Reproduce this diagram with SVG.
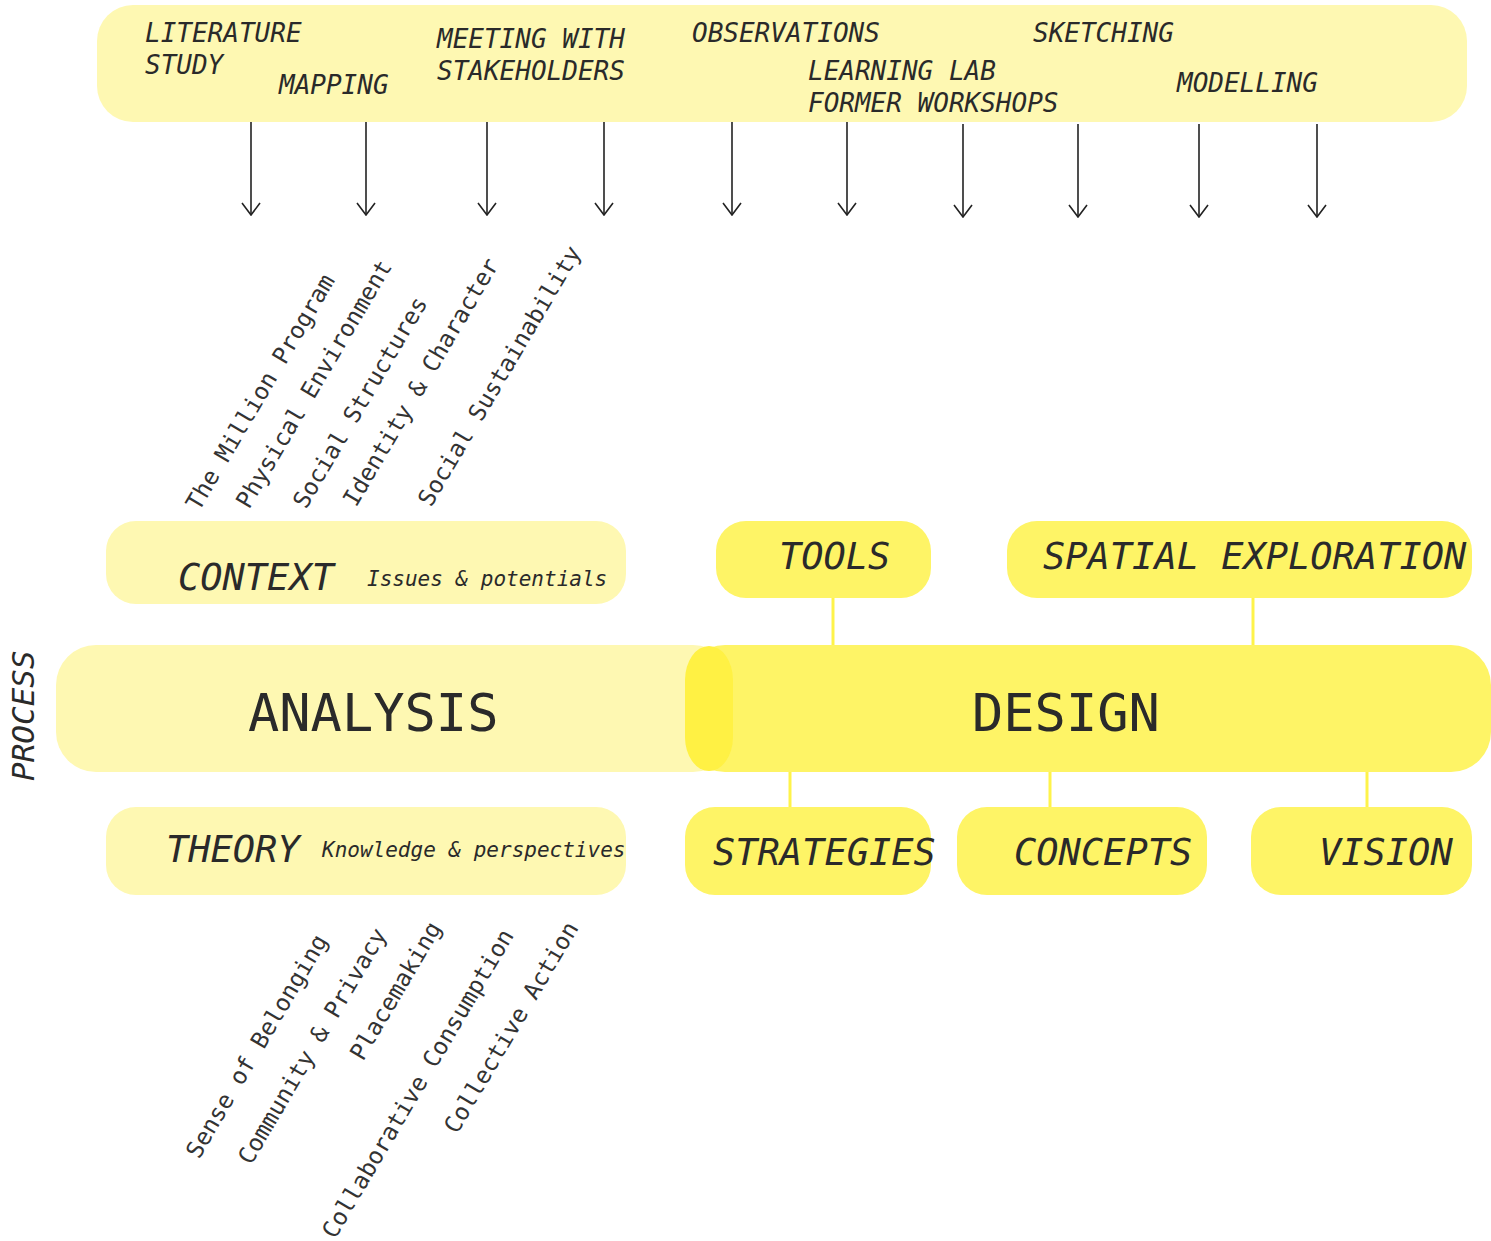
<svg xmlns="http://www.w3.org/2000/svg" width="1491" height="1241" viewBox="0 0 1491 1241">
<style>
.pale{fill:#fef8b2}
.yel{fill:#fef466}
.t{font-family:"DejaVu Sans Mono","Liberation Mono",monospace;fill:#2a2a2a}
.it{font-style:italic}
.top{font-size:26px}
.box{font-size:37px}
.big{font-size:52px}
.sub{font-size:21px}
.rot{font-size:23.5px;fill:#333}
.arr{stroke:#222;stroke-width:1.6;fill:none}
.ylink{stroke:#fef34a;stroke-width:3}
</style>
<defs>
<marker id="ah" viewBox="0 0 14 20" refX="13" refY="10" markerWidth="14" markerHeight="20" markerUnits="userSpaceOnUse" orient="auto">
<path d="M1,1 L13,10 L1,19" fill="none" stroke="#222" stroke-width="1.6"/>
</marker>
</defs>
<rect width="1491" height="1241" fill="#ffffff"/>

<g id="methods">
<rect class="pale" x="97" y="5" width="1370" height="117" rx="36"/>
<text class="t it top" x="145" y="42">LITERATURE</text>
<text class="t it top" x="145" y="74">STUDY</text>
<text class="t it top" x="279" y="94">MAPPING</text>
<text class="t it top" x="437" y="48">MEETING WITH</text>
<text class="t it top" x="437" y="80">STAKEHOLDERS</text>
<text class="t it top" x="692" y="42">OBSERVATIONS</text>
<text class="t it top" x="808" y="80">LEARNING LAB</text>
<text class="t it top" x="808" y="112">FORMER WORKSHOPS</text>
<text class="t it top" x="1033" y="42">SKETCHING</text>
<text class="t it top" x="1177" y="92">MODELLING</text>
</g>

<g id="connectors">
<line class="arr" x1="251" y1="122" x2="251" y2="215" marker-end="url(#ah)"/>
<line class="arr" x1="366" y1="122" x2="366" y2="215" marker-end="url(#ah)"/>
<line class="arr" x1="487" y1="122" x2="487" y2="215" marker-end="url(#ah)"/>
<line class="arr" x1="604" y1="122" x2="604" y2="215" marker-end="url(#ah)"/>
<line class="arr" x1="732" y1="122" x2="732" y2="215" marker-end="url(#ah)"/>
<line class="arr" x1="847" y1="122" x2="847" y2="215" marker-end="url(#ah)"/>
<line class="arr" x1="963" y1="124" x2="963" y2="217" marker-end="url(#ah)"/>
<line class="arr" x1="1078" y1="124" x2="1078" y2="217" marker-end="url(#ah)"/>
<line class="arr" x1="1199" y1="124" x2="1199" y2="217" marker-end="url(#ah)"/>
<line class="arr" x1="1317" y1="124" x2="1317" y2="217" marker-end="url(#ah)"/>
<line class="ylink" x1="833" y1="598" x2="833" y2="646"/>
<line class="ylink" x1="1253" y1="598" x2="1253" y2="646"/>
<line class="ylink" x1="790" y1="768" x2="790" y2="812"/>
<line class="ylink" x1="1050" y1="771" x2="1050" y2="808"/>
<line class="ylink" x1="1367" y1="771" x2="1367" y2="808"/>
</g>

<g id="context-topics">
<text class="t rot" transform="translate(199,512) rotate(-59.5)">The Million Program</text>
<text class="t rot" transform="translate(249,510) rotate(-59.5)">Physical Environment</text>
<text class="t rot" transform="translate(306,510) rotate(-59.5)">Social Structures</text>
<text class="t rot" transform="translate(356,508) rotate(-59.5)">Identity &amp; Character</text>
<text class="t rot" transform="translate(431,508) rotate(-59.5)">Social Sustainability</text>
</g>

<g id="context">
<rect class="pale" x="106" y="521" width="520" height="83" rx="30"/>
<text class="t it box" x="178" y="590">CONTEXT</text>
<text class="t it sub" x="367" y="586">Issues &amp; potentials</text>
</g>

<g id="tools">
<rect class="yel" x="716" y="521" width="215" height="77" rx="30"/>
<text class="t it box" x="779" y="569">TOOLS</text>
</g>

<g id="spatial-exploration">
<rect class="yel" x="1007" y="521" width="465" height="77" rx="30"/>
<text class="t it box" x="1043" y="569">SPATIAL EXPLORATION</text>
</g>

<g id="analysis">
<rect class="pale" x="56" y="645" width="677" height="127" rx="40"/>
<text class="t big" x="248" y="731">ANALYSIS</text>
</g>

<g id="design">
<rect class="yel" x="685" y="645" width="806" height="127" rx="40"/>
<rect x="685" y="646" width="48" height="125" rx="24" ry="34" fill="#fff144"/>
<text class="t big" x="972" y="731">DESIGN</text>
</g>

<g id="process">
<text class="t it" font-size="31" transform="translate(34,781) rotate(-90)">PROCESS</text>
</g>

<g id="theory">
<rect class="pale" x="106" y="807" width="520" height="88" rx="30"/>
<text class="t it box" x="166" y="862">THEORY</text>
<text class="t it sub" x="322" y="857">Knowledge &amp; perspectives</text>
</g>

<g id="strategies">
<rect class="yel" x="685" y="807" width="246" height="88" rx="30"/>
<text class="t it box" x="713" y="865">STRATEGIES</text>
</g>

<g id="concepts">
<rect class="yel" x="957" y="807" width="250" height="88" rx="30"/>
<text class="t it box" x="1014" y="865">CONCEPTS</text>
</g>

<g id="vision">
<rect class="yel" x="1251" y="807" width="221" height="88" rx="30"/>
<text class="t it box" x="1319" y="865">VISION</text>
</g>

<g id="theory-topics">
<text class="t rot" transform="translate(199,1160) rotate(-59.5)">Sense of Belonging</text>
<text class="t rot" transform="translate(251,1166) rotate(-59.5)">Community &amp; Privacy</text>
<text class="t rot" transform="translate(363,1062) rotate(-59.5)">Placemaking</text>
<text class="t rot" transform="translate(335,1240) rotate(-59.5)">Collaborative Consumption</text>
<text class="t rot" transform="translate(457,1135) rotate(-59.5)">Collective Action</text>
</g>
</svg>
